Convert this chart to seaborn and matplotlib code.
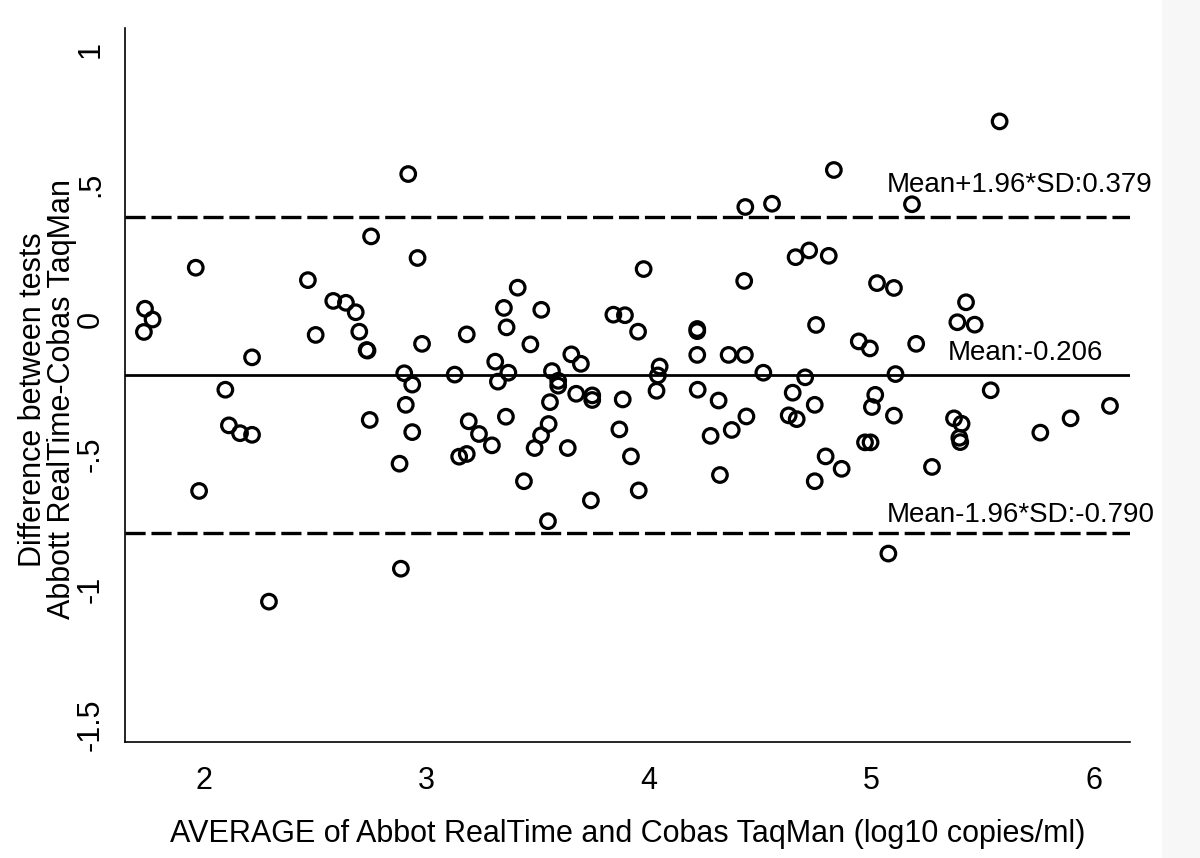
import matplotlib
matplotlib.use("Agg")
import matplotlib.pyplot as plt
import seaborn as sns
import pandas as pd
from matplotlib.patches import Rectangle

# ---- data ----
avg_log10 = [
    1.735, 1.769, 1.730, 1.963, 1.978, 2.096, 2.112, 2.162, 2.216, 2.216,
    2.292, 2.467, 2.502, 2.581, 2.638, 2.682, 2.698, 2.731, 2.735, 2.745,
    2.751, 2.879, 2.885, 2.900, 2.907, 2.918, 2.936, 2.936, 2.960, 2.980,
    3.127, 3.147, 3.181, 3.181, 3.190, 3.236, 3.294, 3.309, 3.321, 3.348,
    3.360, 3.357, 3.368, 3.410, 3.438, 3.467, 3.486, 3.516, 3.515, 3.549,
    3.546, 3.555, 3.564, 3.592, 3.592, 3.635, 3.651, 3.673, 3.694, 3.739,
    3.745, 3.745, 3.840, 3.867, 3.882, 3.892, 3.919, 3.951, 3.954, 3.976,
    4.034, 4.040, 4.048, 4.217, 4.217, 4.217, 4.219, 4.277, 4.313, 4.319,
    4.358, 4.372, 4.428, 4.431, 4.433, 4.438, 4.514, 4.553, 4.628, 4.646,
    4.659, 4.664, 4.702, 4.720, 4.745, 4.745, 4.751, 4.794, 4.808, 4.831,
    4.866, 4.943, 4.971, 4.996, 4.993, 5.002, 5.017, 5.025, 5.076, 5.101,
    5.101, 5.108, 5.182, 5.201, 5.272, 5.371, 5.386, 5.395, 5.399, 5.405,
    5.425, 5.464, 5.536, 5.576, 5.759, 5.895, 6.072,
]
difference = [
    0.040, 0.000, -0.046, 0.192, -0.635, -0.260, -0.392, -0.421, -0.427, -0.140,
    -1.045, 0.146, -0.057, 0.069, 0.062, 0.027, -0.045, -0.113, -0.115, -0.372,
    0.308, -0.534, -0.923, -0.199, -0.316, 0.539, -0.241, -0.417, 0.228, -0.090,
    -0.204, -0.508, -0.498, -0.055, -0.377, -0.424, -0.466, -0.156, -0.230, 0.043,
    -0.029, -0.360, -0.197, 0.118, -0.599, -0.092, -0.476, 0.036, -0.429, -0.387,
    -0.747, -0.306, -0.191, -0.227, -0.245, -0.476, -0.129, -0.275, -0.164, -0.670,
    -0.281, -0.298, 0.018, -0.407, -0.296, 0.016, -0.507, -0.045, -0.633, 0.187,
    -0.264, -0.207, -0.174, -0.035, -0.043, -0.131, -0.260, -0.431, -0.300, -0.576,
    -0.131, -0.409, 0.143, -0.131, 0.417, -0.359, -0.197, 0.429, -0.355, -0.271,
    0.231, -0.369, -0.214, 0.256, -0.316, -0.599, -0.020, -0.507, 0.236, 0.554,
    -0.553, -0.081, -0.455, -0.455, -0.107, -0.324, -0.279, 0.135, -0.867, 0.117,
    -0.356, -0.202, 0.427, -0.090, -0.546, -0.366, -0.010, -0.438, -0.454, -0.386,
    0.064, -0.019, -0.262, 0.734, -0.419, -0.366, -0.320,
]
MEAN_DIFF = -0.206
UPPER_LOA = 0.379
LOWER_LOA = -0.790

x_ticks = [2, 3, 4, 5, 6]
y_ticks = [1, 0.5, 0, -0.5, -1, -1.5]
y_tick_labels = ["1", ".5", "0", "-.5", "-1", "-1.5"]

x_title = "AVERAGE of Abbot RealTime and Cobas TaqMan (log10 copies/ml)"
y_title = "Difference between tests\nAbbott RealTime-Cobas TaqMan"

df = pd.DataFrame({"avg": avg_log10, "diff": difference})

# ---- style ----
sns.set_theme(style="white")
plt.rcParams["font.family"] = ["Liberation Sans", "DejaVu Sans"]
plt.rcParams["lines.scale_dashes"] = False
plt.rcParams["text.color"] = "black"
plt.rcParams["axes.labelcolor"] = "black"
plt.rcParams["xtick.color"] = "black"
plt.rcParams["ytick.color"] = "black"

fig = plt.figure(figsize=(12, 8.58), dpi=100)
fig.patch.set_facecolor("white")
ax = fig.add_axes([125 / 1200, 1 - 742 / 858, (1130 - 125) / 1200, (742 - 28) / 858])

sns.scatterplot(data=df, x="avg", y="diff", ax=ax, marker="o", s=110,
                facecolor="none", edgecolor="black", linewidth=2.3, zorder=3)

ax.axhline(UPPER_LOA, color="black", lw=2.4, dashes=(14.5, 4.2), zorder=2)
ax.axhline(MEAN_DIFF, color="black", lw=2.0, zorder=2)
ax.axhline(LOWER_LOA, color="black", lw=2.4, dashes=(14.5, 4.2), zorder=2)

fs_note = 20
fs_axis = 22
ax.text(5.07, 0.473, f"Mean+1.96*SD:{UPPER_LOA:.3f}", fontsize=fs_note,
        ha="left", va="baseline", clip_on=False, color="black")
ax.text(5.344, -0.150, f"Mean:{MEAN_DIFF:.3f}", fontsize=fs_note,
        ha="left", va="baseline", clip_on=False, color="black")
ax.text(5.07, -0.749, f"Mean-1.96*SD:{LOWER_LOA:.3f}", fontsize=fs_note,
        ha="left", va="baseline", clip_on=False, color="black")

ax.set_xlim(1.645, 6.162)
ax.set_ylim(-1.565, 1.08)
ax.set_xticks(x_ticks)
ax.set_xticklabels([str(t) for t in x_ticks])
ax.set_yticks(y_ticks)
ax.set_yticklabels(y_tick_labels, rotation=90, va="center")

ax.tick_params(axis="both", which="major", direction="out", length=8.6,
               width=1.2, color="black", labelsize=fs_axis, labelcolor="black")
ax.tick_params(axis="x", pad=9)
ax.tick_params(axis="y", pad=5)

for side in ["top", "right"]:
    ax.spines[side].set_visible(False)
for side in ["left", "bottom"]:
    ax.spines[side].set_color("black")
    ax.spines[side].set_linewidth(1.2)

ax.set_xlabel(x_title, fontsize=fs_axis, color="black", labelpad=16)
ax.set_ylabel(y_title, fontsize=fs_axis, color="black", linespacing=0.95)
ax.yaxis.label.set_va("center")
ax.yaxis.set_label_coords(-0.077, 0.48)

# light grey strip at the right edge of the reference image
fig.patches.append(Rectangle((1162 / 1200, 0), 38 / 1200, 1, transform=fig.transFigure,
                             facecolor="#f7f7f7", edgecolor="none", zorder=0))

fig.savefig("out.png", dpi=100, facecolor="white")
